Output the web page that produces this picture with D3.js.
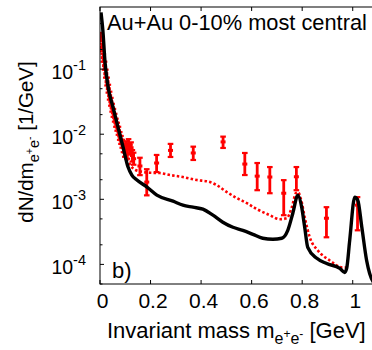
<!DOCTYPE html>
<html>
<head>
<meta charset="utf-8">
<script src="https://cdn.jsdelivr.net/npm/d3@7"></script>
<style>
body { margin: 0; background: #fff; }
text { font-family: "Liberation Sans", Arial, Helvetica, sans-serif; fill: #000; }
</style>
</head>
<body>
<svg id="chart" width="372" height="350"></svg>
<script>
// black: full calculation, red dotted: in-medium part, red points: data
var massBlack = [0.004, 0.011, 0.020, 0.032, 0.051, 0.071, 0.091, 0.111, 0.126, 0.146, 0.186, 0.225,
  0.289, 0.328, 0.368, 0.407, 0.447, 0.486, 0.526, 0.565, 0.605, 0.644, 0.684, 0.719, 0.743, 0.763,
  0.783, 0.798, 0.810, 0.822, 0.858, 0.897, 0.949, 0.968, 0.976, 0.988, 1.008, 1.020, 1.036, 1.055, 1.067, 1.09];
var valBlack = [0.744, 0.406, 0.126, 0.0537, 0.0264, 0.0130, 6.38e-3, 3.13e-3, 2.36e-3, 1.98e-3, 1.54e-3, 1.16e-3,
  9.37e-4, 8.13e-4, 7.57e-4, 7.05e-4, 5.70e-4, 4.45e-4, 3.72e-4, 3.34e-4, 2.90e-4, 2.52e-4, 2.43e-4, 2.52e-4, 3.34e-4, 6.12e-4,
  1.16e-3, 7.57e-4, 3.72e-4, 1.83e-4, 1.24e-4, 1.03e-4, 8.67e-5, 7.52e-5, 8.67e-5, 2.34e-4, 1.08e-3, 9.7e-4, 3.72e-4, 1.15e-4, 7.26e-5, 4.8e-5];

var massRed = [0.005, 0.02, 0.04, 0.06, 0.08, 0.10, 0.12, 0.14, 0.198, 0.237, 0.277, 0.328, 0.383, 0.435,
  0.462, 0.502, 0.542, 0.581, 0.621, 0.672, 0.711, 0.739, 0.759, 0.775, 0.783, 0.798, 0.810, 0.830,
  0.862, 0.909, 0.960, 0.974];
var valRed = [0.285, 0.098, 0.034, 0.0155, 8.2e-3, 4.8e-3, 3.36e-3, 2.82e-3, 2.56e-3, 2.53e-3, 2.36e-3, 2.20e-3, 1.98e-3, 1.84e-3,
  1.65e-3, 1.29e-3, 1.04e-3, 8.73e-4, 7.05e-4, 5.70e-4, 4.94e-4, 5.12e-4, 7.57e-4, 1.24e-3, 1.29e-3, 9.04e-4, 5.31e-4, 2.61e-4,
  1.64e-4, 1.15e-4, 8.98e-5, 8.98e-5];

var massData = [0.002, 0.008, 0.013, 0.018, 0.023, 0.028, 0.033, 0.038, 0.043, 0.048, 0.053, 0.058, 0.063, 0.068,
  0.073, 0.078, 0.083, 0.088, 0.093, 0.098, 0.103, 0.108, 0.113, 0.118, 0.123, 0.128, 0.133, 0.158, 0.185,
  0.224, 0.279, 0.369, 0.487, 0.573, 0.622, 0.672, 0.727, 0.777, 0.896, 1.019];
var valData = [0.31, 0.215, 0.150, 0.113, 0.085, 0.064, 0.050, 0.039, 0.0315, 0.0255, 0.0213, 0.0179, 0.0150, 0.0130,
  0.0113, 0.0094, 0.0082, 0.0071, 0.0062, 0.0053, 0.0066, 0.0050, 0.0071, 0.0058, 0.0062, 0.0047, 0.0042, 0.00325, 0.00184,
  3.61e-3, 5.64e-3, 5.15e-3, 7.62e-3, 3.48e-3, 2.27e-3, 2.20e-3, 1.24e-3, 2.22e-3, 5.12e-4, 8.13e-4];
var loData = [0.27, 0.187, 0.130, 0.098, 0.074, 0.056, 0.0435, 0.034, 0.0274, 0.0222, 0.0185, 0.0156, 0.0130, 0.0113,
  0.0098, 0.0082, 0.0071, 0.0062, 0.0053, 0.0045, 0.0056, 0.0042, 0.0060, 0.0049, 0.0051, 0.0038, 0.0034, 0.00235, 0.00115,
  2.62e-3, 4.47e-3, 4.02e-3, 6.15e-3, 2.36e-3, 1.38e-3, 1.24e-3, 5.70e-4, 1.38e-3, 2.61e-4, 3.34e-4];
var hiData = [0.36, 0.247, 0.172, 0.130, 0.098, 0.074, 0.0575, 0.045, 0.0362, 0.0293, 0.0245, 0.0206, 0.0173, 0.0150,
  0.0130, 0.0108, 0.0094, 0.0082, 0.0072, 0.0062, 0.0078, 0.0059, 0.0084, 0.0069, 0.0075, 0.0057, 0.0052, 0.00435, 0.0029,
  4.80e-3, 7.10e-3, 6.44e-3, 9.18e-3, 5.15e-3, 3.61e-3, 3.13e-3, 1.97e-3, 3.13e-3, 7.57e-4, 1.08e-3];

var xTicks = [0, 0.2, 0.4, 0.6, 0.8, 1];
var xTickLabels = ["0", "0.2", "0.4", "0.6", "0.8", "1"];
var yTicks = [1e-4, 1e-3, 1e-2, 1e-1];
var yTickExp = ["-4", "-3", "-2", "-1"];
var yMinor = [5e-5, 2e-4, 5e-4, 2e-3, 5e-3, 2e-2, 5e-2, 2e-1, 5e-1];

(function () {
  var svg = d3.select("#chart");
  var pLeft = 100, pTop = 7, pBottom = 284, pRight = 378;
  var red = "#ff0000";

  var x = d3.scaleLinear().domain([0, 1.1]).range([pLeft, pRight]);
  var y = d3.scaleLog().domain([5e-5, 0.9]).range([pBottom, pTop]);

  svg.append("defs").append("clipPath").attr("id", "plotclip")
    .append("rect").attr("x", pLeft).attr("y", pTop).attr("width", pRight - pLeft).attr("height", pBottom - pTop);

  var plot = svg.append("g").attr("clip-path", "url(#plotclip)");

  var line = d3.line()
    .x(function (d) { return x(d[0]); })
    .y(function (d) { return y(d[1]); })
    .curve(d3.curveMonotoneX);

  // red dotted curve
  plot.append("path")
    .datum(d3.zip(massRed, valRed))
    .attr("d", line)
    .attr("fill", "none")
    .attr("stroke", red)
    .attr("stroke-width", 2.6)
    .attr("stroke-dasharray", "2.5,2.2");

  // data points with error bars
  var pts = plot.selectAll("g.pt")
    .data(massData.map(function (m, i) { return { m: m, v: valData[i], lo: loData[i], hi: hiData[i] }; }))
    .enter().append("g").attr("class", "pt");

  pts.append("line")
    .attr("x1", function (d) { return x(d.m); }).attr("x2", function (d) { return x(d.m); })
    .attr("y1", function (d) { return y(d.lo); }).attr("y2", function (d) { return y(d.hi); })
    .attr("stroke", red).attr("stroke-width", 2.8);
  ["lo", "hi"].forEach(function (k) {
    pts.append("line")
      .attr("x1", function (d) { return x(d.m) - 2.8; }).attr("x2", function (d) { return x(d.m) + 2.8; })
      .attr("y1", function (d) { return y(d[k]); }).attr("y2", function (d) { return y(d[k]); })
      .attr("stroke", red).attr("stroke-width", 2.2);
  });
  pts.append("rect")
    .attr("x", function (d) { return x(d.m) - 2.5; })
    .attr("y", function (d) { return y(d.v) - 1.5; })
    .attr("width", 5).attr("height", 3)
    .attr("fill", red);

  // black full curve
  plot.append("path")
    .datum(d3.zip(massBlack, valBlack))
    .attr("d", line)
    .attr("fill", "none")
    .attr("stroke", "#000")
    .attr("stroke-width", 3.4)
    .attr("stroke-linejoin", "round");

  // frame
  svg.append("rect")
    .attr("x", pLeft).attr("y", pTop).attr("width", pRight - pLeft).attr("height", pBottom - pTop)
    .attr("fill", "none").attr("stroke", "#000").attr("stroke-width", 1);

  // ticks (pointing inward)
  var axes = svg.append("g").attr("stroke", "#000").attr("stroke-width", 1);
  xTicks.forEach(function (t) {
    axes.append("line").attr("x1", x(t)).attr("x2", x(t)).attr("y1", pBottom).attr("y2", pBottom - 4);
    axes.append("line").attr("x1", x(t)).attr("x2", x(t)).attr("y1", pTop).attr("y2", pTop + 4);
  });
  yTicks.forEach(function (t) {
    axes.append("line").attr("x1", pLeft).attr("x2", pLeft + 4).attr("y1", y(t)).attr("y2", y(t));
  });
  yMinor.forEach(function (t) {
    axes.append("line").attr("x1", pLeft).attr("x2", pLeft + 2.5).attr("y1", y(t)).attr("y2", y(t));
  });

  // tick labels
  svg.selectAll("text.xl").data(xTicks).enter().append("text")
    .attr("class", "xl")
    .attr("x", function (d) { return x(d) + 2.5; })
    .attr("y", 308)
    .attr("text-anchor", "middle")
    .attr("font-size", 21)
    .text(function (d, i) { return xTickLabels[i]; });

  yTicks.forEach(function (t, i) {
    var tx = svg.append("text")
      .attr("x", 86).attr("y", y(t) + 9.5)
      .attr("text-anchor", "end")
      .attr("font-size", 19.5);
    tx.append("tspan").text("10");
    tx.append("tspan").attr("font-size", 14.5).attr("dy", -9).text(yTickExp[i]);
  });

  // axis titles
  var xt = svg.append("text").attr("x", 107).attr("y", 338).attr("font-size", 22);
  xt.append("tspan").text("Invariant mass m");
  xt.append("tspan").attr("font-size", 16).attr("dy", 6).text("e");
  xt.append("tspan").attr("font-size", 12).attr("dy", -6).text("+");
  xt.append("tspan").attr("font-size", 16).attr("dy", 6).text("e");
  xt.append("tspan").attr("font-size", 12).attr("dy", -6).text("-");
  xt.append("tspan").attr("font-size", 22).attr("dy", 0).text(" [GeV]");

  var yt = svg.append("text")
    .attr("transform", "translate(33,142) rotate(-90)")
    .attr("text-anchor", "middle")
    .attr("font-size", 20.5);
  yt.append("tspan").text("dN/dm");
  yt.append("tspan").attr("font-size", 14.5).attr("dy", 6).text("e");
  yt.append("tspan").attr("font-size", 10.5).attr("dy", -6).text("+");
  yt.append("tspan").attr("font-size", 14.5).attr("dy", 6).text("e");
  yt.append("tspan").attr("font-size", 10.5).attr("dy", -6).text("-");
  yt.append("tspan").attr("font-size", 20.5).attr("dy", 0).text(" [1/GeV]");

  // labels inside the plot
  svg.append("text").attr("x", 107).attr("y", 30).attr("font-size", 21.8).text("Au+Au 0-10% most central");
  svg.append("text").attr("x", 112).attr("y", 278).attr("font-size", 22).text("b)");
})();
</script>
</body>
</html>
